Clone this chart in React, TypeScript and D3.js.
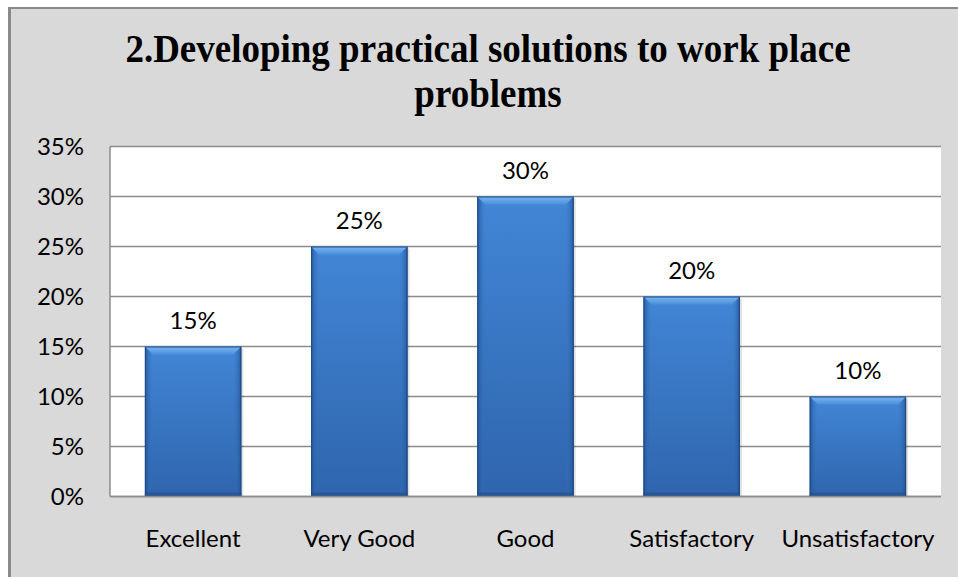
import React from "react";
import * as d3 from "d3";

// chart values
const categories = ["Excellent", "Very Good", "Good", "Satisfactory", "Unsatisfactory"];
const values = [0.15, 0.25, 0.3, 0.2, 0.1];
const yTicks = [0, 0.05, 0.1, 0.15, 0.2, 0.25, 0.3, 0.35];
const titleLines = ["2.Developing practical solutions to work place", "problems"];

const W = 958;
const H = 577;
const plot = { left: 110, right: 941, top: 146.5, bottom: 496.5 };
const labelFont = "Lato, 'Open Sans', sans-serif";
const labelSize = 24;

const App: React.FC = () => {
  const x = d3
    .scaleBand<string>()
    .domain(categories)
    .range([plot.left, plot.right])
    .paddingInner(0.42)
    .paddingOuter(0.21);
  const y = d3.scaleLinear().domain([0, 0.35]).range([plot.bottom, plot.top]);
  const pct = d3.format(".0%");
  const bw = x.bandwidth();
  const bev = 8; // bevel size

  return (
    <svg
      width={W}
      height={H}
      style={{ position: "absolute", left: 0, top: 0, display: "block" }}
    >
      <defs>
        <linearGradient id="barFill" x1="0" y1="0" x2="0" y2="1">
          <stop offset="0" stopColor="#4286d6" />
          <stop offset="1" stopColor="#2f65ad" />
        </linearGradient>
        <linearGradient id="sideL" x1="0" y1="0" x2="1" y2="0">
          <stop offset="0" stopColor="#1f4f8f" />
          <stop offset="1" stopColor="#3a78c4" stopOpacity="0" />
        </linearGradient>
        <linearGradient id="sideR" x1="1" y1="0" x2="0" y2="0">
          <stop offset="0" stopColor="#1f4f8f" />
          <stop offset="1" stopColor="#3a78c4" stopOpacity="0" />
        </linearGradient>
        <linearGradient id="topBev" x1="0" y1="0" x2="0" y2="1">
          <stop offset="0" stopColor="#7ab6f0" />
          <stop offset="1" stopColor="#4a8edb" />
        </linearGradient>
      </defs>

      {/* chart frame */}
      <rect x={8} y={7} width={W - 8} height={H - 7} fill="#d9d9d9" />
      <line x1={9.5} y1={7} x2={9.5} y2={H} stroke="#8a8a8a" strokeWidth={3} />
      <line x1={8} y1={8} x2={W} y2={8} stroke="#8a8a8a" strokeWidth={2} />

      {/* title, slightly stretched vertically like the original */}
      {titleLines.map((t, i) => (
        <text
          key={t}
          transform={`translate(488,${62 + i * 45}) scale(1,1.1)`}
          fontFamily="'Liberation Serif', 'Times New Roman', serif"
          fontWeight="bold"
          fontSize={37}
          textAnchor="middle"
          fill="#000"
        >
          {t}
        </text>
      ))}

      {/* plot area */}
      <rect
        x={plot.left}
        y={plot.top}
        width={plot.right - plot.left}
        height={plot.bottom - plot.top}
        fill="#fff"
      />
      {yTicks.map((t) => (
        <line
          key={t}
          x1={plot.left}
          x2={plot.right}
          y1={y(t)}
          y2={y(t)}
          stroke="#8c8c8c"
          strokeWidth={1.5}
        />
      ))}
      <line x1={plot.left} x2={plot.left} y1={plot.top} y2={plot.bottom} stroke="#8c8c8c" strokeWidth={1.5} />

      {/* y tick labels */}
      {yTicks.map((t) => (
        <text
          key={t}
          x={84}
          y={y(t)}
          dy="0.35em"
          textAnchor="end"
          fontFamily={labelFont}
          fontSize={labelSize}
          fill="#000"
        >
          {pct(t)}
        </text>
      ))}

      {/* bars */}
      {categories.map((c, i) => {
        const x0 = x(c)!;
        const y0 = y(values[i]);
        const h = plot.bottom - y0;
        return (
          <g key={c}>
            <rect x={x0 + 2} y={y0 + 2} width={bw} height={h - 2} fill="#000" opacity={0.12} />
            <rect x={x0} y={y0} width={bw} height={h} fill="url(#barFill)" />
            <rect x={x0} y={y0} width={bev} height={h} fill="url(#sideL)" opacity={0.8} />
            <rect x={x0 + bw - bev} y={y0} width={bev} height={h} fill="url(#sideR)" opacity={0.8} />
            <path
              d={`M${x0},${y0}L${x0 + bw},${y0}L${x0 + bw - bev},${y0 + bev}L${x0 + bev},${y0 + bev}Z`}
              fill="url(#topBev)"
            />
            <rect x={x0} y={plot.bottom - 4} width={bw} height={4} fill="#234f8a" opacity={0.6} />
            <rect x={x0 + 0.5} y={y0 + 0.5} width={bw - 1} height={h - 1} fill="none" stroke="#1f4a82" strokeWidth={1} />
            <text
              x={x0 + bw / 2}
              y={y0 - 18}
              textAnchor="middle"
              fontFamily={labelFont}
              fontSize={labelSize}
              fill="#000"
            >
              {pct(values[i])}
            </text>
          </g>
        );
      })}

      {/* x axis line */}
      <line x1={plot.left} x2={plot.right} y1={plot.bottom} y2={plot.bottom} stroke="#8c8c8c" strokeWidth={1.5} />

      {/* x tick labels */}
      {categories.map((c) => (
        <text
          key={c}
          x={x(c)! + bw / 2}
          y={547}
          textAnchor="middle"
          fontFamily={labelFont}
          fontSize={labelSize}
          fill="#000"
        >
          {c}
        </text>
      ))}
    </svg>
  );
};

export default App;
